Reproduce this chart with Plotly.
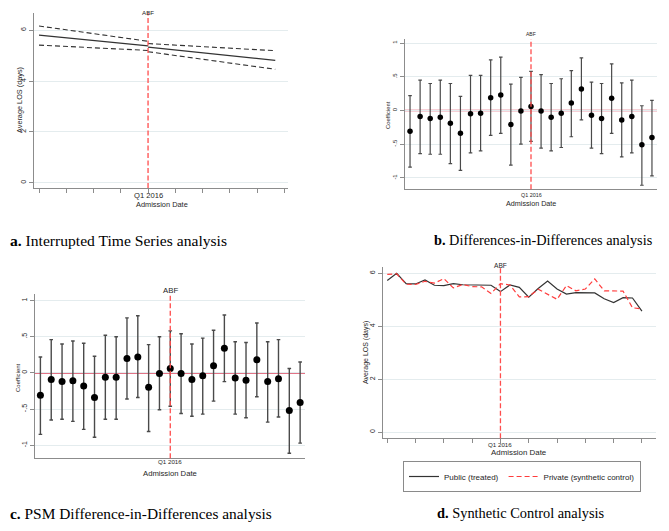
import plotly.graph_objects as go

# ---------------- data ----------------
abf_quarter = 12
tick_quarters = [0, 3, 6, 9, 12, 15, 18, 21, 24, 27]
abf_label = "Q1 2016"

# Panel a: Interrupted time series (fitted line and 95% CI, pre / post ABF)
its_pre_x = [0, 12]
its_post_x = [12, 26]
its_fit_pre = [5.80, 5.38]
its_fit_post = [5.33, 4.81]
its_upper_pre = [6.16, 5.56]
its_upper_post = [5.47, 5.19]
its_lower_pre = [5.41, 5.20]
its_lower_post = [5.15, 4.46]

# Panel b: Differences-in-differences event-study coefficients
did_period = list(range(25))
did_coef = [-0.31, -0.09, -0.12, -0.10, -0.19, -0.34, -0.05, -0.04, 0.19, 0.23, -0.21, -0.01, 0.06,
            -0.01, -0.10, -0.04, 0.11, 0.32, -0.07, -0.12, 0.18, -0.14, -0.09, -0.51, -0.40]
did_upper = [0.22, 0.45, 0.40, 0.45, 0.40, 0.21, 0.52, 0.52, 0.75, 0.79, 0.39, 0.49, 0.58,
             0.53, 0.40, 0.47, 0.59, 0.78, 0.42, 0.40, 0.69, 0.41, 0.45, 0.07, 0.15]
did_lower = [-0.84, -0.64, -0.65, -0.65, -0.79, -0.89, -0.63, -0.60, -0.37, -0.34, -0.81, -0.50, -0.46,
             -0.56, -0.60, -0.55, -0.39, -0.14, -0.56, -0.64, -0.34, -0.69, -0.63, -1.11, -0.97]

# Panel c: PSM difference-in-differences coefficients
psm_period = list(range(25))
psm_coef = [-0.31, -0.09, -0.12, -0.11, -0.18, -0.34, -0.06, -0.06, 0.20, 0.22, -0.20, -0.01, 0.06,
            -0.01, -0.09, -0.04, 0.10, 0.34, -0.07, -0.10, 0.18, -0.12, -0.08, -0.52, -0.41]
psm_upper = [0.22, 0.46, 0.40, 0.44, 0.41, 0.23, 0.52, 0.50, 0.76, 0.79, 0.39, 0.50, 0.58,
             0.54, 0.40, 0.48, 0.59, 0.80, 0.43, 0.42, 0.69, 0.43, 0.46, 0.06, 0.15]
psm_lower = [-0.85, -0.65, -0.64, -0.67, -0.78, -0.89, -0.64, -0.64, -0.36, -0.34, -0.81, -0.51, -0.46,
             -0.56, -0.60, -0.57, -0.39, -0.12, -0.57, -0.62, -0.33, -0.68, -0.61, -1.11, -0.97]

# Panel d: Synthetic control
sc_quarter = list(range(28))
sc_public = [5.73, 6.00, 5.61, 5.60, 5.75, 5.55, 5.54, 5.61, 5.57, 5.57, 5.56, 5.55, 5.31, 5.56,
             5.47, 5.10, 5.43, 5.71, 5.41, 5.22, 5.27, 5.27, 5.26, 5.04, 4.90, 5.08, 5.07, 4.57]
sc_private = [5.96, 5.98, 5.59, 5.58, 5.70, 5.63, 5.80, 5.45, 5.58, 5.50, 5.49, 5.24, 5.61, 5.56,
              5.11, 5.12, 5.40, 5.20, 5.02, 5.54, 5.34, 5.41, 5.79, 5.34, 5.33, 5.33, 4.70, 4.66]

los_ticks = [0, 2, 4, 6]
coef_ticks = [-1, -0.5, 0, 0.5, 1]
coef_tick_labels = ["-1", "-.5", "0", ".5", "1"]

captions = [
    ("a.", "Interrupted Time Series analysis"),
    ("b.", "Differences-in-Differences analysis"),
    ("c.", "PSM Difference-in-Differences analysis"),
    ("d.", "Synthetic Control analysis"),
]

# ---------------- layout helpers ----------------
# The page body has an 8px margin, so the figure is drawn 8px in from the window corner.
OFF = 8
W, H = 669 - OFF, 531 - OFF
def px(x):
    return (x - OFF) / W
def py(y):
    return 1 - (y - OFF) / H

SANS = "Liberation Sans, Arial, sans-serif"
SERIF = "Liberation Serif, Times New Roman, serif"
AXC = "#8c8c8c"
GRID = "#e4ecee"
DARK = "#333333"
RED = "#ff3d3d"
VLINE = "#ff4d4d"
ZERO_RED = "#d9455e"
TXT = "#262626"

fig = go.Figure()

# ---- Panel a ----
for xs, ys, dash in [
    (its_pre_x, its_fit_pre, "solid"), (its_post_x, its_fit_post, "solid"),
    (its_pre_x, its_upper_pre, "5px,3px"), (its_post_x, its_upper_post, "5px,3px"),
    (its_pre_x, its_lower_pre, "5px,3px"), (its_post_x, its_lower_post, "5px,3px"),
]:
    fig.add_trace(go.Scatter(x=xs, y=ys, mode="lines", xaxis="x", yaxis="y",
                             line=dict(color=DARK, width=1.1, dash=dash), showlegend=False,
                             hoverinfo="skip"))

# ---- Panels b and c ----
def coef_trace(xs, c, up, lo, xa, ya, msize, thick):
    return go.Scatter(
        x=xs, y=c, mode="markers", xaxis=xa, yaxis=ya, showlegend=False,
        marker=dict(color="black", size=msize),
        error_y=dict(type="data", symmetric=False,
                     array=[u - v for u, v in zip(up, c)],
                     arrayminus=[v - l for v, l in zip(c, lo)],
                     color="#4a4a4a", thickness=thick, width=1.8),
    )

fig.add_trace(coef_trace(did_period, did_coef, did_upper, did_lower, "x2", "y2", 5.5, 1.2))
fig.add_trace(coef_trace(psm_period, psm_coef, psm_upper, psm_lower, "x3", "y3", 7, 1.4))

# ---- Panel d ----
fig.add_trace(go.Scatter(x=sc_quarter, y=sc_public, mode="lines", xaxis="x4", yaxis="y4",
                         name="Public (treated)", line=dict(color=DARK, width=1.2)))
fig.add_trace(go.Scatter(x=sc_quarter, y=sc_private, mode="lines", xaxis="x4", yaxis="y4",
                         name="Private (synthetic control)",
                         line=dict(color=RED, width=1.2, dash="5px,3px")))

# ---------------- axes ----------------
def xax(domain, rng, anchor, tickvals, ticks):
    return dict(domain=domain, range=rng, anchor=anchor, showline=True, linecolor=AXC, linewidth=1.3,
                ticks=ticks, ticklen=4, tickcolor=AXC, tickvals=tickvals,
                ticktext=[""] * len(tickvals), showgrid=False, zeroline=False, fixedrange=True)

def yax(domain, rng, anchor, tickvals, ticktext, tsize):
    return dict(domain=domain, range=rng, anchor=anchor, showline=True, linecolor=AXC, linewidth=1.3,
                ticks="outside", ticklen=4, tickcolor=AXC, tickvals=tickvals, ticktext=ticktext,
                tickangle=-90, tickfont=dict(family=SANS, size=tsize, color=TXT),
                showgrid=True, gridcolor=GRID, gridwidth=1, zeroline=False, fixedrange=True)

fig.update_layout(
    xaxis=xax([px(34), px(288)], [-0.55, 27.4], "y", tick_quarters, "outside"),
    yaxis=yax([py(188), py(13)], [-0.2, 6.67], "x", los_ticks, [str(v) for v in los_ticks], 7),
    xaxis2=xax([px(405), px(657)], [-0.5, 24.5], "y2", [abf_quarter], ""),
    yaxis2=yax([py(189.3), py(39)], [-1.17, 1.06], "x2", coef_ticks, coef_tick_labels, 6),
    xaxis3=xax([px(35), px(305)], [-0.5, 24.45], "y3", [abf_quarter], ""),
    yaxis3=yax([py(458.3), py(294)], [-1.18, 1.09], "x3", coef_ticks, coef_tick_labels, 7),
    xaxis4=xax([px(383.3), px(655.7)], [-0.42, 28.46], "y4", tick_quarters, "outside"),
    yaxis4=yax([py(438.3), py(267)], [-0.23, 6.24], "x4", los_ticks, [str(v) for v in los_ticks], 7),
)

# ---------------- shapes ----------------
shapes = []
for i, xa in enumerate(["x", "x2", "x3", "x4"]):
    ya = "y" if i == 0 else "y%d" % (i + 1)
    shapes.append(dict(type="line", xref=xa, x0=abf_quarter, x1=abf_quarter,
                       yref=ya + " domain", y0=0, y1=1,
                       line=dict(color=VLINE, width=1.3, dash="5px,2.5px"), layer="above"))
for xa, ya in [("x2", "y2"), ("x3", "y3")]:
    shapes.append(dict(type="line", xref=xa + " domain", x0=0, x1=1, yref=ya, y0=0, y1=0,
                       line=dict(color=ZERO_RED, width=1.5), layer="below"))
fig.update_layout(shapes=shapes)

# ---------------- annotations ----------------
ann = []
def text(x, y, s, size, angle=0, family=SANS, xanchor="center", color=TXT):
    ann.append(dict(x=px(x), y=py(y), xref="paper", yref="paper", text=s, showarrow=False,
                    font=dict(family=family, size=size, color=color), textangle=angle,
                    xanchor=xanchor, yanchor="middle"))

def at_abf(xa, ypos, s, size):
    ann.append(dict(x=abf_quarter, xref=xa, y=py(ypos), yref="paper", text=s, showarrow=False,
                    font=dict(family=SANS, size=size, color=TXT), xanchor="center", yanchor="middle"))

# ABF labels above each panel
for xa, ypos, size in [("x", 12, 6.2), ("x2", 34, 5), ("x3", 290.5, 7.8), ("x4", 265, 6.6)]:
    at_abf(xa, ypos, "ABF", size)

# x tick label at the ABF quarter
for xa, ypos, size in [("x", 195.5, 7.6), ("x2", 195.5, 5.4), ("x3", 461.5, 6.2), ("x4", 444, 6.2)]:
    at_abf(xa, ypos, abf_label, size)

# axis titles
text(162, 204, "Admission Date", 7.4)
text(19, 100, "Average LOS (days)", 7.3, angle=-90)
text(531, 203.5, "Admission Date", 7.2)
text(388, 115, "Coefficient", 5.8, angle=-90)
text(170, 473, "Admission Date", 7.7)
text(18, 378, "Coefficient", 6, angle=-90)
text(519, 452.5, "Admission Date", 7.9)
text(366, 353, "Average LOS (days)", 7, angle=-90)

# captions
cap_pos = [(8, 240, 15.6), (432, 240, 14.3), (8, 513, 15.4), (435, 513, 14.4)]
for (lab, cap), (x, y, size) in zip(captions, cap_pos):
    text(x, y, "<b>%s</b> %s" % (lab, cap), size, family=SERIF, xanchor="left", color="black")

fig.update_layout(
    annotations=ann,
    width=W, height=H,
    margin=dict(l=0, r=0, t=0, b=0),
    paper_bgcolor="white", plot_bgcolor="white",
    showlegend=True,
    legend=dict(orientation="h", x=px(403), y=py(461), xanchor="left", yanchor="top",
                bordercolor="#8a8a8a", borderwidth=1, font=dict(family=SANS, size=8, color=TXT),
                itemwidth=30, bgcolor="white", tracegroupgap=0),
)

fig.write_html("out.html")
